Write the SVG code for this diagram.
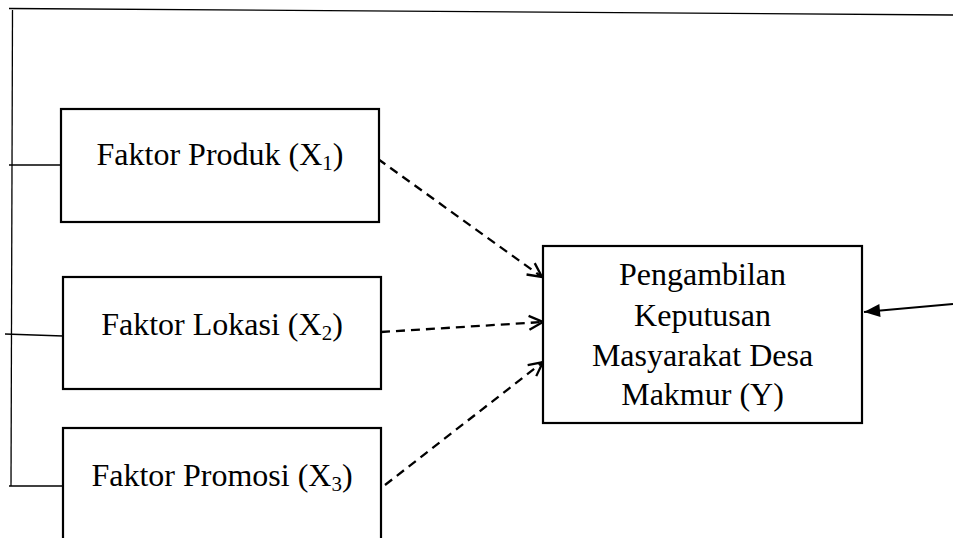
<svg xmlns="http://www.w3.org/2000/svg" width="953" height="538" viewBox="0 0 953 538">
<style>
.box{fill:#fff;stroke:#000;stroke-width:2.2}
.t{font-family:"Liberation Serif","Times New Roman",serif;font-size:32px;fill:#000;text-anchor:middle}
.sub{font-size:21px}
.thin{stroke:#000;stroke-width:1.3;fill:none}
.dash{stroke:#000;stroke-width:2.3;fill:none;stroke-dasharray:9 6}
</style>
<defs>
<marker id="open" viewBox="-16 -9 18 18" refX="0" refY="0" markerWidth="18" markerHeight="18" markerUnits="userSpaceOnUse" orient="auto">
<path d="M-14,-7 L0,0 L-14,7" fill="none" stroke="#000" stroke-width="2.3" stroke-dasharray="none"/>
</marker>
<marker id="solid" viewBox="-18 -8 20 16" refX="0" refY="0" markerWidth="20" markerHeight="16" markerUnits="userSpaceOnUse" orient="auto">
<path d="M-16,-6.5 L0,0 L-16,6.5 Z" fill="#000" stroke="none"/>
</marker>
</defs>
<g id="connectors">
<line class="thin" x1="9" y1="8.5" x2="953" y2="15"/>
<line class="thin" x1="12.5" y1="10" x2="11" y2="486"/>
<line class="thin" x1="9" y1="165" x2="61" y2="165"/>
<line class="thin" x1="5" y1="334" x2="63" y2="336"/>
<line class="thin" x1="9" y1="486" x2="63" y2="486"/>
<line class="dash" x1="378" y1="159" x2="542" y2="277" marker-end="url(#open)"/>
<line class="dash" x1="381" y1="332" x2="543" y2="322" marker-end="url(#open)"/>
<line class="dash" x1="385" y1="485" x2="543" y2="362" marker-end="url(#open)"/>
<line x1="953" y1="304" x2="864" y2="312" stroke="#000" stroke-width="2.2" marker-end="url(#solid)"/>
</g>
<g id="x1">
<rect class="box" x="61" y="109" width="318" height="113"/>
<text class="t" x="220" y="165">Faktor Produk (X<tspan class="sub" dy="5">1</tspan><tspan dy="-5">)</tspan></text>
</g>
<g id="x2">
<rect class="box" x="63" y="277" width="318" height="112"/>
<text class="t" x="222" y="335">Faktor Lokasi (X<tspan class="sub" dy="5">2</tspan><tspan dy="-5">)</tspan></text>
</g>
<g id="x3">
<rect class="box" x="63" y="428" width="318" height="130"/>
<text class="t" x="222" y="486">Faktor Promosi (X<tspan class="sub" dy="5">3</tspan><tspan dy="-5">)</tspan></text>
</g>
<g id="y">
<rect class="box" x="543" y="246" width="319" height="177"/>
<text class="t" x="702.5" y="285">Pengambilan</text>
<text class="t" x="702.5" y="326">Keputusan</text>
<text class="t" x="702.5" y="366">Masyarakat Desa</text>
<text class="t" x="702.5" y="405">Makmur (Y)</text>
</g>
</svg>
